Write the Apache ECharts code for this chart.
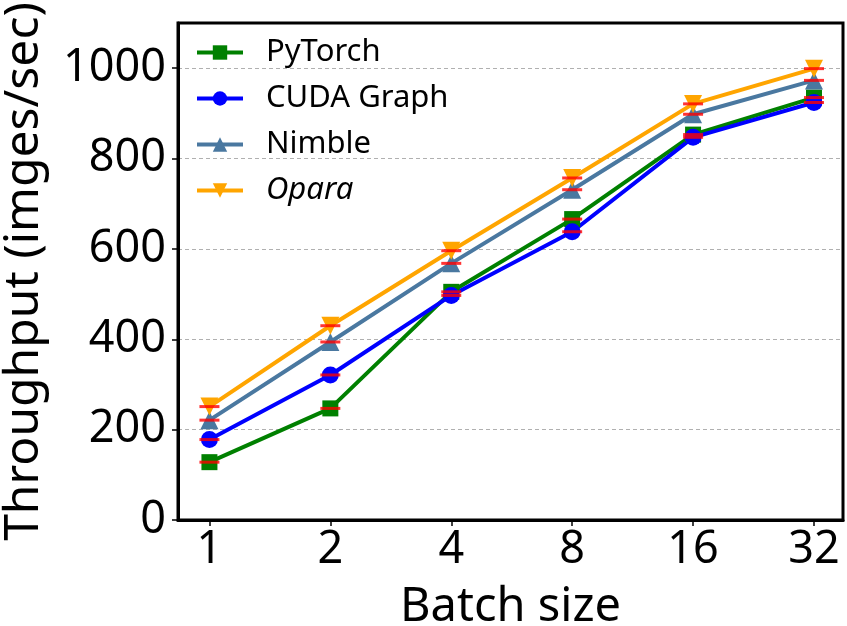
<!DOCTYPE html>
<html><head><meta charset="utf-8">
<script src="https://cdn.jsdelivr.net/npm/echarts@6/dist/echarts.min.js"></script>
<style>html,body{margin:0;padding:0;background:#fff}#c{width:847px;height:626px}</style>
</head><body><div id="c"></div>
<script>
const categories = ['1','2','4','8','16','32'];
const pytorch = [128, 247, 505, 666, 853, 935];
const cudaGraph = [178, 321, 497, 638, 847, 924];
const nimble = [221, 394, 568, 731, 898, 973];
const opara = [251, 430, 596, 757, 921, 999];
const yTicks = [0, 200, 400, 600, 800, 1000];

const FONT = '"Noto Sans", "Open Sans", sans-serif';
const toXY = arr => arr.map((v, i) => [i, v]);

function lineSeries(name, data, color, symbol, size, rotate) {
  return {
    name, type: 'line', data: toXY(data),
    symbol, symbolSize: size, symbolRotate: rotate || 0,
    lineStyle: { color, width: 4 },
    itemStyle: { color },
    z: 3
  };
}
function capSeries(data) {
  return {
    type: 'scatter', data: toXY(data), symbol: 'rect', symbolSize: [20, 3],
    itemStyle: { color: '#ff0000' }, z: 5, silent: true, legendHoverLink: false
  };
}

const chart = echarts.init(document.getElementById('c'));
chart.setOption({
  animation: false,
  grid: { left: 178, right: 4, top: 23, bottom: 106, show: true, borderColor: '#000', borderWidth: 3,
    containLabel: false, outerBoundsMode: 'none' },
  legend: {
    left: 190, top: 32, orient: 'vertical', itemGap: 15, itemWidth: 46, itemHeight: 18,
    lineStyle: { width: 4 },
    data: [
      { name: 'PyTorch' },
      { name: 'CUDA Graph' },
      { name: 'Nimble' },
      { name: 'Opara', textStyle: { fontStyle: 'italic' } }
    ],
    textStyle: { fontFamily: FONT, fontSize: 31, color: '#000', padding: [0, 0, 0, 18] }
  },
  xAxis: {
    type: 'value', min: -0.26, max: 5.24,
    name: 'Batch size', nameLocation: 'middle', nameGap: 64,
    nameTextStyle: { fontFamily: FONT, fontSize: 47, color: '#000' },
    axisLine: { show: true, onZero: false, lineStyle: { color: '#000', width: 3 } },
    axisTick: { show: true, length: 6, lineStyle: { color: '#000', width: 1.5 }, customValues: [0,1,2,3,4,5] },
    axisLabel: { fontFamily: FONT, fontSize: 45, color: '#000', margin: 8,
      customValues: [0,1,2,3,4,5], formatter: v => categories[Math.round(v)] },
    splitLine: { show: false }
  },
  yAxis: {
    type: 'value', min: 0, max: 1100, interval: 200,
    name: 'Throughput (imges/sec)', nameLocation: 'middle', nameGap: 130,
    nameTextStyle: { fontFamily: FONT, fontSize: 48, color: '#000' },
    axisLine: { show: true, onZero: false, lineStyle: { color: '#000', width: 3 } },
    axisTick: { show: true, length: 6, lineStyle: { color: '#000', width: 1.5 }, customValues: yTicks },
    axisLabel: { fontFamily: FONT, fontSize: 45, color: '#000', margin: 12, customValues: yTicks,
      formatter: v => String(v) },
    splitLine: { show: true, lineStyle: { color: '#b0b0b0', type: [4, 3], width: 1 } }
  },
  series: [
    lineSeries('PyTorch', pytorch, '#008000', 'rect', 16),
    lineSeries('CUDA Graph', cudaGraph, '#0000ff', 'circle', 17),
    lineSeries('Nimble', nimble, '#4a78a0', 'triangle', 18),
    lineSeries('Opara', opara, '#ffa500', 'triangle', 18, 180),
    capSeries(pytorch), capSeries(cudaGraph), capSeries(nimble), capSeries(opara)
  ]
});
</script></body></html>
